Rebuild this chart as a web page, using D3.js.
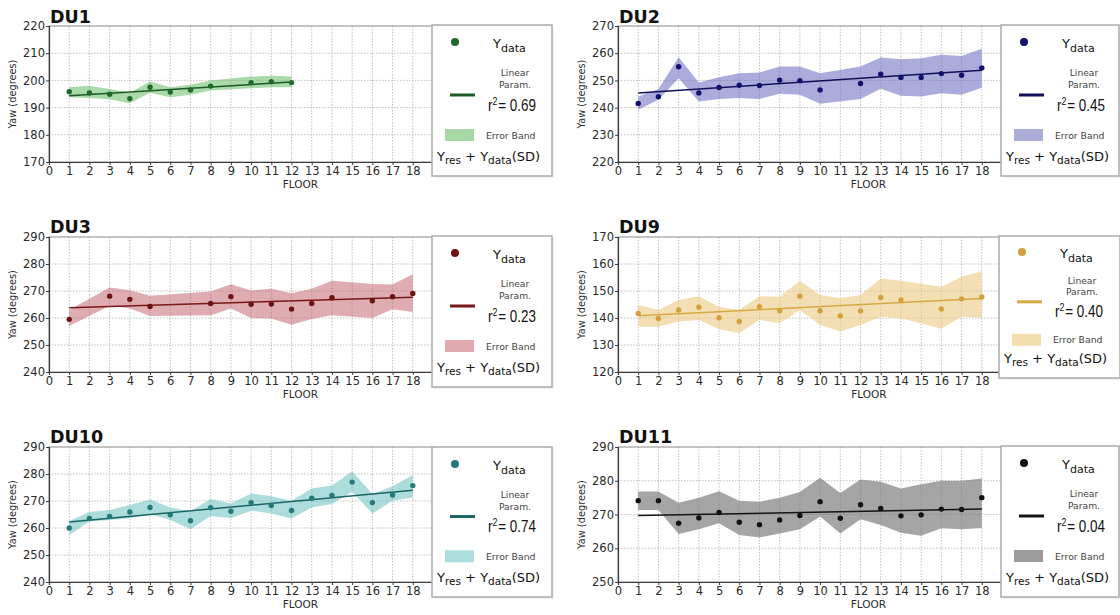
<!DOCTYPE html>
<html>
<head>
<meta charset="utf-8">
<script src="https://cdn.jsdelivr.net/npm/d3@7"></script>
<style>
  html, body { margin: 0; padding: 0; background: #fff; }
  svg { display: block; }
</style>
</head>
<body>
<svg id="chart" width="1120" height="615"></svg>
<script>
// ---- Yaw per floor, residual band and linear fit for each DU ----
const floorsDU1 = [1, 2, 3, 4, 5, 6, 7, 8, 10, 11, 12];
const yawDU1   = [195.8, 195.4, 194.9, 193.3, 197.5, 195.7, 196.5, 197.9, 199.2, 199.5, 199.2];
const upperDU1 = [197.5, 198.0, 196.8, 195.5, 199.6, 197.5, 198.4, 200.0, 201.4, 201.7, 201.4];
const lowerDU1 = [193.8, 193.5, 193.1, 191.6, 195.5, 193.8, 194.7, 196.3, 197.1, 197.5, 197.5];
const fitDU1   = [194.4, 199.4];

const floorsDU2 = [1, 2, 3, 4, 5, 6, 7, 8, 9, 10, 12, 13, 14, 15, 16, 17, 18];
const yawDU2   = [241.5, 244.0, 255.0, 245.4, 247.4, 248.2, 248.1, 250.1, 249.9, 246.5, 248.9, 252.3, 251.1, 251.1, 252.5, 251.9, 254.6];
const upperDU2 = [244.1, 246.8, 258.5, 249.2, 251.2, 252.6, 252.9, 255.1, 255.1, 252.6, 255.1, 258.4, 257.8, 258.1, 259.4, 259.0, 261.6];
const lowerDU2 = [239.2, 242.9, 250.8, 242.2, 243.2, 243.5, 243.2, 245.1, 244.7, 241.4, 243.2, 246.9, 244.4, 244.1, 245.3, 244.7, 247.3];
const fitDU2   = [245.4, 253.7];

const floorsDU3 = [1, 3, 4, 5, 8, 9, 10, 11, 12, 13, 14, 16, 17, 18];
const yawDU3   = [259.5, 268.1, 266.9, 264.3, 265.4, 267.9, 265.1, 265.2, 263.3, 265.4, 267.5, 266.4, 267.9, 269.1];
const upperDU3 = [263.0, 271.3, 270.3, 268.2, 269.8, 272.5, 270.2, 270.8, 269.2, 270.8, 273.8, 272.6, 272.4, 276.2];
const lowerDU3 = [257.0, 264.5, 263.5, 260.7, 261.0, 263.5, 260.0, 259.8, 257.5, 259.6, 261.0, 260.0, 263.2, 262.2];
const fitDU3   = [263.8, 267.7];

const floorsDU9 = [1, 2, 3, 4, 5, 6, 7, 8, 9, 10, 11, 12, 13, 14, 16, 17, 18];
const yawDU9   = [141.7, 139.8, 143.0, 144.0, 140.1, 138.7, 144.2, 142.7, 148.1, 142.7, 140.8, 142.6, 147.6, 146.7, 143.3, 147.1, 147.8];
const upperDU9 = [144.8, 143.0, 146.7, 148.1, 144.2, 143.0, 148.1, 147.9, 153.8, 148.5, 147.3, 148.5, 154.6, 153.8, 151.6, 155.3, 157.3];
const lowerDU9 = [136.8, 136.8, 138.7, 139.3, 135.8, 134.4, 139.3, 138.1, 143.0, 137.4, 135.0, 137.4, 140.5, 139.9, 136.0, 140.5, 140.2];
const fitDU9   = [140.8, 147.2];

const floorsDU10 = [1, 2, 3, 4, 5, 6, 7, 8, 9, 10, 11, 12, 13, 14, 15, 16, 17, 18];
const yawDU10   = [260.0, 263.5, 264.3, 265.9, 267.6, 264.9, 262.7, 267.5, 266.2, 269.4, 268.3, 266.5, 271.0, 272.1, 277.0, 269.4, 272.2, 275.7];
const upperDU10 = [262.6, 265.9, 266.7, 268.5, 270.6, 267.6, 266.2, 270.7, 269.1, 272.8, 271.8, 270.1, 274.6, 275.7, 281.0, 272.6, 275.5, 279.6];
const lowerDU10 = [257.4, 262.4, 263.0, 263.6, 265.1, 263.0, 259.5, 264.4, 263.6, 266.4, 265.4, 263.5, 267.6, 268.9, 273.4, 265.4, 270.1, 271.3];
const fitDU10   = [262.2, 274.0];

const floorsDU11 = [1, 2, 3, 4, 5, 6, 7, 8, 9, 10, 11, 12, 13, 14, 15, 16, 17, 18];
const yawDU11   = [274.1, 274.1, 267.4, 269.0, 270.6, 267.7, 267.0, 268.4, 269.7, 273.8, 268.9, 272.9, 271.8, 269.6, 269.9, 271.6, 271.5, 275.0];
const upperDU11 = [276.8, 276.8, 273.5, 275.0, 276.9, 274.1, 273.8, 275.0, 276.7, 280.9, 276.4, 280.4, 279.7, 277.7, 279.0, 280.0, 280.0, 280.7];
const lowerDU11 = [271.3, 271.3, 264.2, 265.6, 267.4, 263.9, 263.2, 264.4, 265.6, 269.4, 264.4, 268.6, 266.9, 264.6, 263.7, 265.9, 265.6, 266.0];
const fitDU11   = [269.7, 271.6];

// axis tick values
const floorTicks = d3.range(0, 19);
const yTicksDU1  = [170, 180, 190, 200, 210, 220];
const yTicksDU2  = [220, 230, 240, 250, 260, 270];
const yTicksDU3  = [240, 250, 260, 270, 280, 290];
const yTicksDU9  = [120, 130, 140, 150, 160, 170];
const yTicksDU10 = [240, 250, 260, 270, 280, 290];
const yTicksDU11 = [250, 260, 270, 280, 290];

const titles = ["DU1", "DU2", "DU3", "DU9", "DU10", "DU11"];
const r2Labels = ["0.69", "0.45", "0.23", "0.40", "0.74", "0.04"];

// ---- panel layout and styling ----
const panels = [
  { floors: floorsDU1, yaw: yawDU1, upper: upperDU1, lower: lowerDU1, fit: fitDU1, ticks: yTicksDU1,
    left: 49, top: 26, bottom: 162, titleY: 23,
    legend: { x: 432, y: 25, w: 120, h: 151 },
    dot: "#1f6a2b", line: "#1d5a25", band: "#6cbd6c", bandOp: 0.58, swatch: "#a6d7a4" },
  { floors: floorsDU2, yaw: yawDU2, upper: upperDU2, lower: lowerDU2, fit: fitDU2, ticks: yTicksDU2,
    left: 618, top: 26, bottom: 162, titleY: 23,
    legend: { x: 1001, y: 25, w: 118, h: 151 },
    dot: "#12126e", line: "#10105a", band: "#7070c2", bandOp: 0.58, swatch: "#adadd9" },
  { floors: floorsDU3, yaw: yawDU3, upper: upperDU3, lower: lowerDU3, fit: fitDU3, ticks: yTicksDU3,
    left: 49, top: 237, bottom: 372, titleY: 233,
    legend: { x: 432, y: 236, w: 120, h: 151 },
    dot: "#6c1212", line: "#781818", band: "#c0606a", bandOp: 0.52, swatch: "#e0a9ae" },
  { floors: floorsDU9, yaw: yawDU9, upper: upperDU9, lower: lowerDU9, fit: fitDU9, ticks: yTicksDU9,
    left: 618, top: 237, bottom: 372, titleY: 233,
    legend: { x: 999, y: 236, w: 121, h: 142 },
    dot: "#d4a03c", line: "#d6a844", band: "#ecc982", bandOp: 0.6, swatch: "#f3dfae" },
  { floors: floorsDU10, yaw: yawDU10, upper: upperDU10, lower: lowerDU10, fit: fitDU10, ticks: yTicksDU10,
    left: 49, top: 447, bottom: 582, titleY: 443,
    legend: { x: 432, y: 447, w: 120, h: 150 },
    dot: "#237a78", line: "#1c6565", band: "#6cc0c0", bandOp: 0.56, swatch: "#acdcdc" },
  { floors: floorsDU11, yaw: yawDU11, upper: upperDU11, lower: lowerDU11, fit: fitDU11, ticks: yTicksDU11,
    left: 618, top: 447, bottom: 582, titleY: 443,
    legend: { x: 1001, y: 446, w: 118, h: 151 },
    dot: "#121212", line: "#141414", band: "#777777", bandOp: 0.66, swatch: "#9c9c9c" }
];

const svg = d3.select("#chart");
svg.append("rect").attr("width", 1120).attr("height", 615).attr("fill", "#fff");

const FONT = "'DejaVu Sans', Verdana, sans-serif";
const SANS = "'Liberation Sans', Arial, sans-serif";
const plotW = 384;

panels.forEach((p, i) => {
  const yDom = d3.extent(p.ticks);
  const x = d3.scaleLinear().domain([0, 19]).range([p.left, p.left + plotW]);
  const y = d3.scaleLinear().domain(yDom).range([p.bottom, p.top]);
  const g = svg.append("g");

  // grid
  g.append("g").selectAll("line").data(floorTicks.filter(d => d > 0)).join("line")
    .attr("x1", d => x(d)).attr("x2", d => x(d))
    .attr("y1", p.top).attr("y2", p.bottom)
    .attr("stroke", "#b9b9b9").attr("stroke-width", 0.9).attr("stroke-dasharray", "1.5,1.5");
  g.append("g").selectAll("line").data(p.ticks.slice(1, -1)).join("line")
    .attr("x1", p.left).attr("x2", p.left + plotW)
    .attr("y1", d => y(d)).attr("y2", d => y(d))
    .attr("stroke", "#b9b9b9").attr("stroke-width", 0.9).attr("stroke-dasharray", "1.5,1.5");

  // error band
  const pts = p.floors.map((f, k) => ({ f, v: p.yaw[k], hi: p.upper[k], lo: p.lower[k] }));
  g.append("path").datum(pts)
    .attr("d", d3.area().x(d => x(d.f)).y0(d => y(d.lo)).y1(d => y(d.hi)))
    .attr("fill", p.band).attr("fill-opacity", p.bandOp);

  // linear fit
  const f0 = p.floors[0], f1 = p.floors[p.floors.length - 1];
  g.append("path").datum([[f0, p.fit[0]], [f1, p.fit[1]]])
    .attr("d", d3.line().x(d => x(d[0])).y(d => y(d[1])))
    .attr("stroke", p.line).attr("stroke-width", 1.5).attr("fill", "none");

  // measured yaw
  g.append("g").selectAll("circle").data(pts).join("circle")
    .attr("cx", d => x(d.f)).attr("cy", d => y(d.v)).attr("r", 2.7)
    .attr("fill", p.dot);

  // frame
  g.append("rect").attr("x", p.left).attr("y", p.top).attr("width", plotW).attr("height", p.bottom - p.top)
    .attr("fill", "none").attr("stroke", "#8a8a8a").attr("stroke-width", 1);

  // axes
  const xAxis = d3.axisBottom(x).tickValues(floorTicks).tickFormat(d3.format("d")).tickSize(3).tickPadding(2);
  const xa = g.append("g").attr("transform", `translate(0,${p.bottom})`).call(xAxis);
  const yAxis = d3.axisLeft(y).tickValues(p.ticks).tickFormat(d3.format("d")).tickSize(3).tickPadding(1);
  const ya = g.append("g").attr("transform", `translate(${p.left},0)`).call(yAxis);
  [xa, ya].forEach(a => {
    a.select(".domain").attr("stroke", "#3a3a3a").attr("stroke-width", 1.2);
    a.selectAll(".tick line").attr("stroke", "#3a3a3a");
    a.selectAll(".tick text").attr("fill", "#2a2a2a").style("font-family", FONT).style("font-size", "11.5px");
  });

  // titles and axis labels
  svg.append("text").attr("x", p.left + 1).attr("y", p.titleY).text(titles[i])
    .style("font-family", FONT).style("font-weight", "bold").style("font-size", "17.5px").attr("fill", "#111");
  svg.append("text").attr("x", (p.left + p.legend.x + p.legend.w) / 2).attr("y", p.bottom + 26)
    .attr("text-anchor", "middle").text("FLOOR")
    .style("font-family", FONT).style("font-size", "10.5px").attr("fill", "#2a2a2a");
  svg.append("text")
    .attr("transform", `translate(${p.left - 33},${(p.top + p.bottom) / 2}) rotate(-90)`)
    .attr("text-anchor", "middle").text("Yaw (degrees)")
    .style("font-family", FONT).style("font-size", "9.8px").attr("fill", "#2a2a2a");

  // legend
  const L = p.legend;
  const lg = svg.append("g").attr("transform", `translate(${L.x},${L.y})`);
  lg.append("rect").attr("x", 2).attr("y", 2).attr("width", L.w).attr("height", L.h)
    .attr("fill", "#ececec").attr("opacity", 0.7);
  lg.append("rect").attr("width", L.w).attr("height", L.h)
    .attr("fill", "#fff").attr("stroke", "#b0b0b0").attr("stroke-width", 1.6);
  const s = L.h / 151;
  lg.append("circle").attr("cx", 23).attr("cy", 17 * s).attr("r", 4).attr("fill", p.dot);
  const yd = lg.append("text").attr("x", 61).attr("y", 23 * s)
    .style("font-family", FONT).attr("fill", "#111");
  yd.append("tspan").text("Y").style("font-size", "13px");
  yd.append("tspan").text("data").attr("dy", 4).style("font-size", "11px");
  lg.append("text").attr("x", 83).attr("y", 51 * s).attr("text-anchor", "middle").text("Linear")
    .style("font-family", FONT).style("font-size", "9.2px").attr("fill", "#444");
  lg.append("text").attr("x", 83).attr("y", 63 * s).attr("text-anchor", "middle").text("Param.")
    .style("font-family", FONT).style("font-size", "9.2px").attr("fill", "#444");
  lg.append("line").attr("x1", 18).attr("x2", 43).attr("y1", 70 * s).attr("y2", 70 * s)
    .attr("stroke", p.line).attr("stroke-width", 3);
  // condensed r² label
  const rt = lg.append("text")
    .attr("transform", `translate(56,${86 * s}) scale(0.84,1)`)
    .style("font-family", SANS).attr("fill", "#111");
  rt.append("tspan").text("r").style("font-size", "16px");
  rt.append("tspan").text("2").attr("dy", -6).style("font-size", "10.5px");
  rt.append("tspan").text("= " + r2Labels[i]).attr("dy", 6).attr("dx", 1).style("font-size", "16px");
  lg.append("rect").attr("x", 13).attr("y", 104 * s).attr("width", 29).attr("height", 12)
    .attr("fill", p.swatch);
  lg.append("text").attr("x", 54).attr("y", 114 * s).text("Error Band")
    .style("font-family", FONT).style("font-size", "9.3px").attr("fill", "#444");
  const yr = lg.append("text").attr("x", 5).attr("y", 135.5 * s)
    .style("font-family", FONT).attr("fill", "#111");
  yr.append("tspan").text("Y").style("font-size", "13px");
  yr.append("tspan").text("res").attr("dy", 3).style("font-size", "10.5px");
  yr.append("tspan").text(" + Y").attr("dy", -3).style("font-size", "13px");
  yr.append("tspan").text("data").attr("dy", 3).style("font-size", "10.5px");
  yr.append("tspan").text("(SD)").attr("dy", -3).style("font-size", "13px");
});
</script>
</body>
</html>
